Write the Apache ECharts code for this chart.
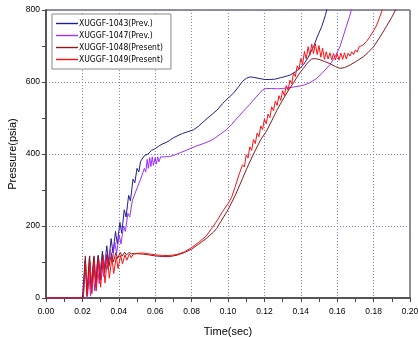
<!DOCTYPE html>
<html><head><meta charset="utf-8">
<script src="https://cdn.jsdelivr.net/npm/echarts@6/dist/echarts.min.js"></script>
<style>html,body{margin:0;padding:0;background:#fff}#c{width:418px;height:337px}</style>
</head><body><div id="c"></div>
<script>
var seriesNames = ['XUGGF-1043(Prev.)','XUGGF-1047(Prev.)','XUGGF-1048(Present)','XUGGF-1049(Present)'];
var xTicks = [0,0.02,0.04,0.06,0.08,0.10,0.12,0.14,0.16,0.18,0.20];
var yTicks = [0,200,400,600,800];

var t1043 = [0,0.020,0.021,0.0215,0.0225,0.0238,0.0248,0.0262,0.0272,0.0286,0.0296,0.031,0.032,0.0334,0.0344,0.0358,0.0368,0.0382,0.0392,0.0406,0.0416,0.043,0.044,0.0454,0.0464,0.0478,0.0488,0.050,0.051,0.052,0.053,0.054,0.055,0.056,0.057,0.058,0.060,0.062,0.064,0.066,0.068,0.070,0.072,0.075,0.078,0.081,0.084,0.087,0.090,0.094,0.097,0.100,0.103,0.106,0.108,0.110,0.112,0.114,0.117,0.120,0.123,0.126,0.129,0.132,0.134,0.137,0.1395,0.1415,0.144,0.147,0.149,0.1515,0.1535,0.1545];
var p1043 = [0,0,0,105,10,110,25,112,40,118,60,130,80,145,100,165,125,185,150,210,180,245,225,285,270,330,320,360,350,380,375,395,390,400,395,410,415,422,428,432,438,445,450,457,462,467,478,492,505,522,540,555,569,588,602,610,614,613,610,607,607,608,612,616,619,628,638,648,668,698,725,754,785,805];

var t1047 = [0,0.0225,0.0235,0.0245,0.0258,0.0268,0.0282,0.0292,0.0306,0.0316,0.033,0.034,0.0354,0.0364,0.0378,0.0388,0.0402,0.0412,0.0426,0.0436,0.045,0.046,0.0474,0.0484,0.050,0.051,0.052,0.053,0.054,0.0548,0.0556,0.0562,0.057,0.0576,0.0584,0.059,0.060,0.0606,0.0614,0.062,0.063,0.065,0.068,0.071,0.074,0.077,0.080,0.083,0.086,0.090,0.093,0.096,0.099,0.102,0.1045,0.1066,0.109,0.112,0.114,0.117,0.119,0.121,0.124,0.127,0.130,0.133,0.136,0.1396,0.142,0.145,0.1487,0.152,0.156,0.159,0.1615,0.163,0.165,0.1668,0.168];
var p1047 = [0,0,70,5,85,20,95,40,105,60,120,80,135,100,155,125,175,150,200,185,235,225,270,265,305,300,330,330,360,350,385,360,390,365,392,368,390,372,392,378,392,392,393,398,404,410,417,423,428,436,445,456,467,482,497,508,522,538,550,567,578,582,582,581,582,584,586,589,592,598,610,626,648,672,698,722,754,782,805];

var t1048 = [0,0.0205,0.0212,0.0216,0.0226,0.024,0.025,0.0264,0.0274,0.0288,0.0298,0.0312,0.0322,0.0336,0.0346,0.036,0.037,0.0384,0.0394,0.0408,0.0418,0.0432,0.0442,0.0456,0.047,0.050,0.053,0.056,0.060,0.064,0.068,0.072,0.076,0.080,0.084,0.088,0.092,0.0938,0.096,0.100,0.104,0.108,0.110,0.114,0.118,0.121,0.124,0.1267,0.130,0.133,0.136,0.139,0.1414,0.144,0.146,0.148,0.1505,0.153,0.156,0.159,0.1615,0.164,0.167,0.170,0.1743,0.177,0.180,0.1835,0.187,0.190,0.1925];
var p1048 = [0,0,0,117,5,117,15,117,30,118,50,120,70,122,88,124,100,126,110,127,116,127,120,126,123,123,122,120,117,115,115,119,126,136,150,165,183,193,212,245,285,332,356,400,440,462,492,520,550,575,598,622,638,655,664,665,662,657,651,643,638,640,647,656,670,682,698,725,754,780,805];

var t1049 = [0,0.0205,0.021,0.0218,0.0228,0.0242,0.0252,0.0266,0.0276,0.029,0.030,0.0314,0.0324,0.0338,0.0348,0.0362,0.0372,0.0386,0.0396,0.041,0.042,0.0434,0.0444,0.0458,0.0468,0.048,0.050,0.053,0.056,0.060,0.064,0.068,0.072,0.076,0.080,0.084,0.088,0.091,0.094,0.097,0.100,0.102,
0.104,0.105,0.106,0.107,0.108,0.109,0.110,0.111,0.112,0.113,0.114,0.115,0.116,0.117,0.118,0.119,0.120,0.121,0.122,0.123,0.124,0.125,0.126,0.127,0.128,0.129,0.130,0.131,0.132,0.133,0.134,0.135,0.136,0.137,0.138,0.139,0.140,0.141,0.142,0.143,0.144,0.145,0.146,0.147,0.148,0.149,0.150,0.151,0.152,0.153,0.154,0.155,0.156,0.157,0.158,0.159,0.160,0.161,0.162,0.163,0.164,0.165,0.166,0.167,0.168,0.169,0.170,0.171,0.172,0.174,0.176,0.178,0.180,0.1817,0.1832,0.1844,0.1852];
var p1049 = [0,0,0,95,5,100,12,105,20,105,30,108,42,110,55,112,68,115,82,118,95,120,105,122,112,122,124,125,123,120,118,118,121,128,140,155,172,193,215,240,262,280,
310,306,342,338,370,364,398,389,420,410,440,429,458,448,478,468,497,484,511,501,531,520,547,535,562,549,576,562,590,577,605,595,625,615,645,635,665,649,685,664,698,674,705,679,706,676,701,669,694,663,684,664,681,662,679,661,679,661,680,663,681,664,680,672,684,676,689,683,698,702,712,726,742,758,778,795,808];

function pairs(t,p){return t.map(function(v,i){return [v,p[i]];});}
var colors = ['#1f1f8f','#9b30ff','#8b1a1a','#ff1010'];
var font = 'Liberation Sans';
var legendFont = '"Liberation Sans Narrow","DejaVu Sans Condensed","Liberation Sans"';
var chart = echarts.init(document.getElementById('c'), null, {renderer:'canvas'});
var data = [pairs(t1043,p1043),pairs(t1047,p1047),pairs(t1048,p1048),pairs(t1049,p1049)];
chart.setOption({
  animation:false,
  backgroundColor:'#fff',
  grid:{left:46,right:8,top:10,bottom:39,containLabel:false,outerBoundsMode:'none',show:true,borderColor:'#222',borderWidth:1,backgroundColor:'transparent'},
  legend:{
    left:52,top:14,orient:'vertical',itemGap:3,itemWidth:22,itemHeight:10,
    padding:[5,8,5,4],
    backgroundColor:'#fff',borderColor:'#888',borderWidth:1,
    textStyle:{fontFamily:legendFont,fontSize:8.5,color:'#000',padding:[0,0,0,-4]},
    data:seriesNames.map(function(n,i){
      return {name:n,icon:'path://M0,4.4 L22,4.4 L22,5.8 L0,5.8 Z',itemStyle:{color:colors[i]}};
    })
  },
  xAxis:{
    type:'value',min:xTicks[0],max:xTicks[xTicks.length-1],interval:0.02,
    name:'Time(sec)',nameLocation:'middle',nameGap:28,nameMoveOverlap:false,
    nameTextStyle:{fontFamily:font,fontSize:11,color:'#000'},
    axisLine:{onZero:false,lineStyle:{color:'#555',width:2}},
    axisTick:{show:true,length:4,lineStyle:{color:'#444'}},
    minorTick:{show:true,splitNumber:2,length:4,lineStyle:{color:'#444'}},
    axisLabel:{fontFamily:font,fontSize:8.5,color:'#000',margin:9,formatter:function(v){return v.toFixed(2);}},
    splitLine:{show:true,lineStyle:{color:'#7b7bf0',type:[1,2],width:1}}
  },
  yAxis:{
    type:'value',min:yTicks[0],max:yTicks[yTicks.length-1],interval:200,
    name:'Pressure(psia)',nameLocation:'middle',nameGap:28,nameMoveOverlap:false,
    nameTextStyle:{fontFamily:font,fontSize:11,color:'#000'},
    axisLine:{show:true,lineStyle:{color:'#555',width:2}},
    axisTick:{show:true,length:4,lineStyle:{color:'#444'}},
    minorTick:{show:true,splitNumber:2,length:4,lineStyle:{color:'#444'}},
    axisLabel:{fontFamily:font,fontSize:8.5,color:'#000',margin:6},
    splitLine:{show:true,lineStyle:{color:'#7b7bf0',type:[1,2],width:1}}
  },
  series:seriesNames.map(function(n,i){
    return {name:n,type:'line',data:data[i],showSymbol:false,symbol:'none',
      lineStyle:{color:colors[i],width:1},itemStyle:{color:colors[i]},clip:true};
  })
});
</script></body></html>
